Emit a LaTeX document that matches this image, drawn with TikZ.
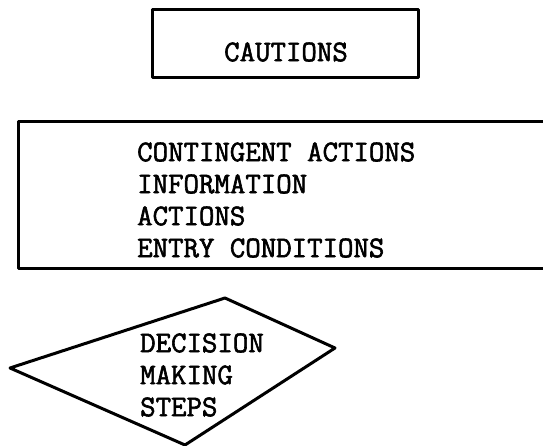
\documentclass[tikz,border=0pt]{standalone}
\usepackage{fontspec}
\newfontfamily\typewriter{Latin Modern Mono}[FakeBold=2]
\begin{document}
\begin{tikzpicture}[x=1pt,y=-1pt,
    boxline/.style={line width=3pt, line join=round},
    typed/.style={font=\typewriter\fontsize{30}{32}\selectfont, inner sep=0pt, align=left}]
    \useasboundingbox (0,0) rectangle (543,446);
    % cautions
    \draw[boxline] (152,10) rectangle (418,78);
    \node[typed] (cautions) at (286,52) {CAUTIONS};
    % step box, open to the right edge
    \draw[boxline] (543,122) -- (18,122) -- (18,268) -- (543,268);
    \node[typed, anchor=west] (steps) at (137,200) {CONTINGENT ACTIONS\\INFORMATION\\ACTIONS\\ENTRY CONDITIONS};
    % decision diamond
    \draw[boxline] (10,368) -- (225,298) -- (335,348) -- (185,445) -- cycle;
    \node[typed, anchor=west] (decision) at (140,375) {DECISION\\MAKING\\STEPS};
\end{tikzpicture}
\end{document}
